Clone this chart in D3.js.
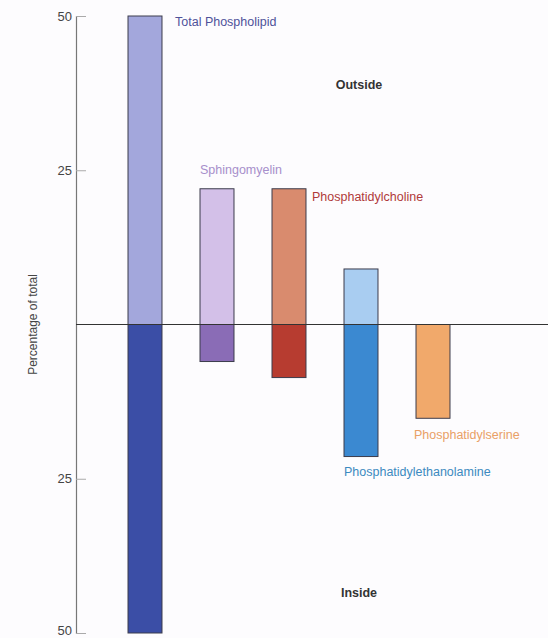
<!DOCTYPE html>
<html>
<head>
<meta charset="utf-8">
<script src="https://cdn.jsdelivr.net/npm/d3@7"></script>
<style>
  body { margin: 0; background: #fdfcfe; }
  svg { display: block; font-family: "Liberation Sans", Arial, sans-serif; }
</style>
</head>
<body>
<div id="chart"></div>
<script>
    'use strict';

    // lipid distribution across the bilayer, % of total
    var categories = ['Total Phospholipid', 'Sphingomyelin', 'Phosphatidylcholine',
        'Phosphatidylethanolamine', 'Phosphatidylserine'];
    var outside = [50, 22, 22, 9, 0];
    var inside = [50, 6, 8.6, 21.4, 15.2];
    var tickValues = [-50, -25, 0, 25, 50];

    var outColors = ['#a3a7dc', '#d3c0e8', '#d98b6e', '#a9cdf1', '#f1a96b'];
    var inColors = ['#3b4ea6', '#8a6cb6', '#b73c30', '#3b89d1', '#f1a96b'];
    var labelColors = ['#4f529a', '#a78fcb', '#b03a3a', '#3c8ac0', '#e9a066'];

    var width = 548, height = 638;
    var axisX = 76;

    var svg = d3.select('#chart').append('svg')
        .attr('width', width)
        .attr('height', height);

    var y = d3.scaleLinear().domain([-50, 50]).range([633, 16]);
    var x = d3.scaleBand().domain(categories)
        .range([109, 469])
        .paddingInner(0.528)
        .paddingOuter(0.264);

    // y axis
    var axis = svg.append('g')
        .attr('transform', 'translate(' + axisX + ',0)')
        .call(d3.axisRight(y)
            .tickValues(tickValues.filter(function (d) { return d !== 0; }))
            .tickSize(10)
            .tickFormat(function (d) { return Math.abs(d); }));
    axis.select('.domain').attr('stroke', '#777').attr('stroke-width', 1.2);
    axis.selectAll('.tick line').attr('stroke', '#aaa');
    axis.selectAll('.tick text')
        .attr('x', -4)
        .attr('dy', function (d) { return d === -50 ? '0.1em' : '0.32em'; })
        .attr('text-anchor', 'end')
        .attr('fill', '#444')
        .style('font-size', '13px');

    svg.append('text')
        .attr('transform', 'translate(37,' + y(0) + ') rotate(-90)')
        .attr('text-anchor', 'middle')
        .attr('fill', '#444')
        .style('font-size', '12px')
        .text('Percentage of total');

    // outside halves
    svg.selectAll('.out')
        .data(categories).enter()
        .append('rect')
        .filter(function (d, i) { return outside[i] > 0; })
        .attr('x', function (d) { return x(d); })
        .attr('width', x.bandwidth())
        .attr('y', function (d) { return y(outside[categories.indexOf(d)]); })
        .attr('height', function (d) { return y(0) - y(outside[categories.indexOf(d)]); })
        .attr('fill', function (d) { return outColors[categories.indexOf(d)]; })
        .attr('stroke', '#3c3c4c')
        .attr('stroke-width', 1);

    // inside halves
    svg.selectAll('.in')
        .data(categories).enter()
        .append('rect')
        .attr('x', function (d) { return x(d); })
        .attr('width', x.bandwidth())
        .attr('y', y(0))
        .attr('height', function (d, i) { return y(-inside[i]) - y(0); })
        .attr('fill', function (d, i) { return inColors[i]; })
        .attr('stroke', '#3c3c4c')
        .attr('stroke-width', 1);

    // zero line
    svg.append('line')
        .attr('x1', axisX).attr('x2', width)
        .attr('y1', y(0)).attr('y2', y(0))
        .attr('stroke', '#333')
        .attr('stroke-width', 1.2);

    // series labels, placed next to their bars
    var labelPos = [
        { dx: 47, y: 26, anchor: 'start' },
        { dx: 0, y: 174, anchor: 'start' },
        { dx: 40, y: 201, anchor: 'start' },
        { dx: 0, y: 476, anchor: 'start' },
        { dx: -2, y: 439, anchor: 'start' }
    ];
    svg.selectAll('.lbl')
        .data(categories).enter()
        .append('text')
        .attr('x', function (d, i) { return x(d) + labelPos[i].dx; })
        .attr('y', function (d, i) { return labelPos[i].y; })
        .attr('fill', function (d, i) { return labelColors[i]; })
        .style('font-size', '12.5px')
        .text(function (d) { return d; });

    svg.append('text')
        .attr('x', 359).attr('y', 89)
        .attr('text-anchor', 'middle')
        .attr('fill', '#333')
        .style('font-size', '12.5px')
        .style('font-weight', 'bold')
        .text('Outside');

    svg.append('text')
        .attr('x', 359).attr('y', 597)
        .attr('text-anchor', 'middle')
        .attr('fill', '#333')
        .style('font-size', '12.5px')
        .style('font-weight', 'bold')
        .text('Inside');
</script>
</body>
</html>
